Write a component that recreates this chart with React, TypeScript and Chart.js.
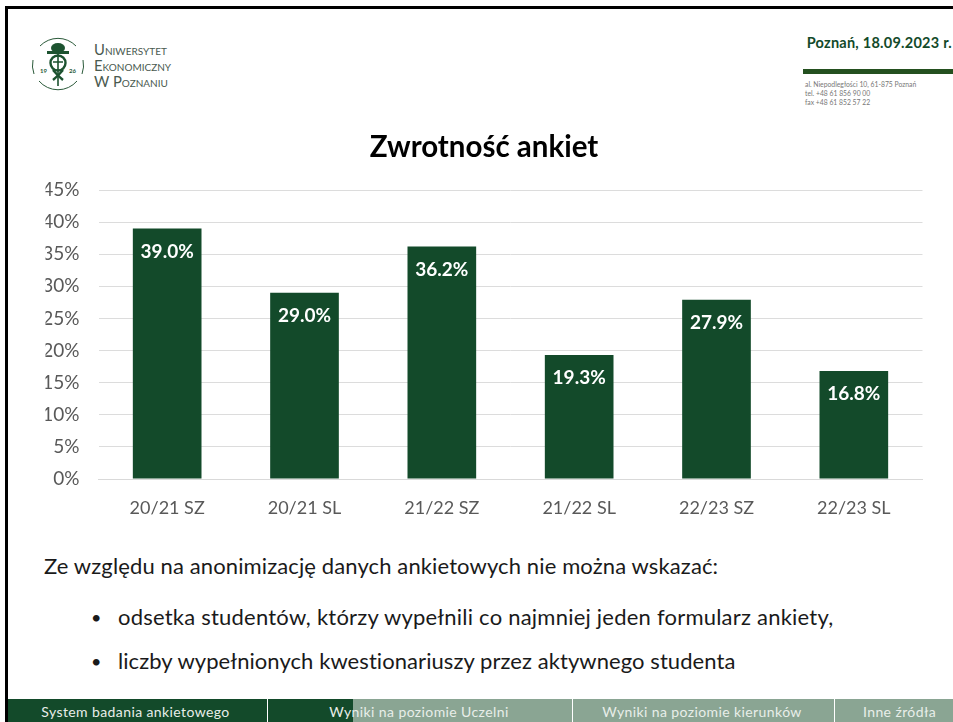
import React, { useEffect, useRef } from "react";
import { Chart, registerables } from "chart.js";

Chart.register(...registerables);

const categories = ["20/21 SZ", "20/21 SL", "21/22 SZ", "21/22 SL", "22/23 SZ", "22/23 SL"];
const responseRates = [39.0, 29.0, 36.2, 19.3, 27.9, 16.8];
const chartTitle = "Zwrotność ankiet";
const introText = "Ze względu na anonimizację danych ankietowych nie można wskazać:";
const bullets = [
  "odsetka studentów, którzy wypełnili co najmniej jeden formularz ankiety,",
  "liczby wypełnionych kwestionariuszy przez aktywnego studenta",
];
const addressLines = ["al. Niepodległości 10, 61-875 Poznań", "tel. +48 61 856 90 00", "fax +48 61 852 57 22"];
const logoLines = ["Uniwersytet", "Ekonomiczny", "W Poznaniu"];
const navBackgrounds = [
  { left: 8, width: 259, bg: "#134a2a" },
  { left: 268, width: 85, bg: "#134a2a" },
  { left: 353, width: 219, bg: "#8aa593" },
  { left: 573, width: 261, bg: "#8aa593" },
  { left: 835, width: 118, bg: "#8aa593" },
];
const navLabels = [
  { label: "System badania ankietowego", center: 135.5 },
  { label: "Wyniki na poziomie Uczelni", center: 419 },
  { label: "Wyniki na poziomie kierunków", center: 702 },
  { label: "Inne źródła", center: 899.5 },
];

const FONT = "Lato, 'Open Sans', sans-serif";
const GREEN = "#134a2a";

const valueLabels = {
  id: "valueLabels",
  afterDatasetsDraw(chart: any) {
    const { ctx } = chart;
    const meta = chart.getDatasetMeta(0);
    ctx.save();
    ctx.fillStyle = "#ffffff";
    ctx.font = `bold 19px ${FONT}`;
    ctx.textAlign = "center";
    ctx.textBaseline = "middle";
    meta.data.forEach((bar: any, i: number) => {
      ctx.fillText(responseRates[i].toFixed(1) + "%", bar.x, bar.y + 23);
    });
    ctx.restore();
  },
};

export default function App() {
  const ref = useRef<HTMLCanvasElement>(null);
  useEffect(() => {
    const chart = new Chart(ref.current as HTMLCanvasElement, {
      type: "bar",
      plugins: [valueLabels],
      data: {
        labels: categories,
        datasets: [{ data: responseRates, backgroundColor: GREEN, barPercentage: 0.5, categoryPercentage: 1 }],
      },
      options: {
        responsive: false,
        animation: false,
        layout: { padding: { left: 45.5, right: 30.5, top: 0, bottom: 0 } },
        plugins: {
          legend: { display: false },
          tooltip: { enabled: false },
          title: {
            display: true,
            text: chartTitle,
            color: "#000000",
            font: { family: FONT, size: 29.5, weight: "bold" },
            padding: { top: 9.3, bottom: 25.3 },
          },
        },
        scales: {
          x: {
            grid: { display: false },
            border: { color: "#d9d9d9" },
            ticks: { color: "#595959", font: { family: FONT, size: 18 }, padding: 10, maxRotation: 0 },
            afterFit: (s: any) => { s.height = 61; },
          },
          y: {
            min: 0,
            max: 45,
            grid: { color: "#dcdcdc", drawTicks: false },
            border: { display: false },
            ticks: {
              stepSize: 5,
              color: "#595959",
              padding: 19,
              font: { family: FONT, size: 19 },
              callback: (v: any) => v + "%",
            },
            afterFit: (s: any) => { s.width = 53; },
          },
        },
      },
    } as any);
    return () => chart.destroy();
  }, []);

  const abs = (o: React.CSSProperties): React.CSSProperties => ({ position: "absolute", whiteSpace: "nowrap", ...o });
  const bulletSpacing = [0.22, 0.07];

  return (
    <div style={{ position: "fixed", left: 0, top: 0, width: 953, height: 722, background: "#fff", overflow: "hidden", fontFamily: FONT }}>
      <div style={abs({ left: 5, top: 6, width: 948, height: 3, background: "#000" })} />
      <div style={abs({ left: 5, top: 6, width: 3, height: 716, background: "#000" })} />

      <svg style={abs({ left: 30, top: 36 })} width="56" height="56" viewBox="0 0 56 56">
        <g fill="none" stroke="#2b5a3a" strokeWidth="1">
          <path d="M4 38 A 25 25 0 0 1 3 24" />
          <path d="M10 10 A 25 25 0 0 1 46 10" />
          <path d="M53 24 A 25 25 0 0 1 52 38" />
          <path d="M9 45 A 25 25 0 0 0 47 45" />
        </g>
        <ellipse cx="28" cy="12" rx="7" ry="5" fill="#1d5330" />
        <rect x="17" y="15" width="22" height="3" fill="#1d5330" />
        <g fill="none" stroke="#1d5330" strokeWidth="2.4">
          <circle cx="28" cy="27" r="7.5" />
          <path d="M23 34 Q28 40 33 44 M33 34 Q28 40 23 44" />
        </g>
        <path d="M28 18 V50 M23 26 H33" stroke="#1d5330" strokeWidth="1.6" fill="none" />
        <text x="10" y="37" fontSize="6" fontWeight="bold" fill="#2b5a3a" fontFamily={FONT}>19</text>
        <text x="39" y="37" fontSize="6" fontWeight="bold" fill="#2b5a3a" fontFamily={FONT}>26</text>
      </svg>
      <div style={abs({ left: 94, top: 41, fontSize: 14.8, lineHeight: "16px", color: "#4a5a50", fontVariant: "small-caps" })}>
        {logoLines.map((l) => <div key={l}>{l}</div>)}
      </div>

      <div style={abs({ right: 1, top: 34, fontSize: 14.5, fontWeight: 700, color: "#134a2a", lineHeight: "18px", letterSpacing: 0.25 })}>Poznań, 18.09.2023 r.</div>
      <div style={abs({ left: 803, top: 69, width: 150, height: 5, background: "#24501f" })} />
      <div style={abs({ left: 805, top: 80, fontSize: 6.8, lineHeight: "9px", color: "#777" })}>
        {addressLines.map((l) => <div key={l}>{l}</div>)}
      </div>

      <canvas ref={ref} width={953} height={420} style={abs({ left: 0, top: 120, display: "block" })} />

      <div style={abs({ left: 44, top: 554, fontSize: 22, lineHeight: "24px", color: "#1a1a1a", letterSpacing: 0.12 })}>{introText}</div>
      {bullets.map((b, i) => (
        <div key={b}>
          <div style={abs({ left: 91, top: 605 + i * 44, fontSize: 18, lineHeight: "24px", color: "#1a1a1a" })}>•</div>
          <div style={abs({ left: 118, top: 605 + i * 44, fontSize: 22, lineHeight: "24px", color: "#1a1a1a", letterSpacing: bulletSpacing[i] })}>{b}</div>
        </div>
      ))}

      {navBackgrounds.map((t) => (
        <div key={t.left} style={abs({ left: t.left, top: 699, width: t.width, height: 23, background: t.bg })} />
      ))}
      {navLabels.map((t) => (
        <div key={t.label} style={abs({ left: t.center - 120, width: 240, top: 703, textAlign: "center", fontSize: 14, lineHeight: "17px", color: "#e8eee9", letterSpacing: 0.4 })}>{t.label}</div>
      ))}
    </div>
  );
}
